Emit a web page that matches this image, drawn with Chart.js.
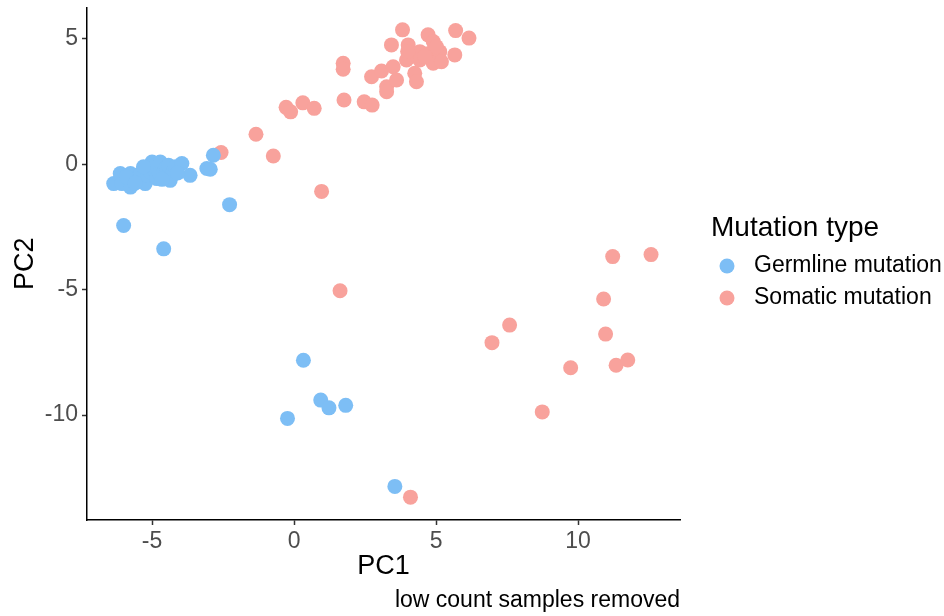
<!DOCTYPE html>
<html>
<head>
<meta charset="utf-8">
<script src="https://cdn.jsdelivr.net/npm/chart.js@4"></script>
<style>
  body { margin: 0; background: #fff; }
  #wrap { width: 944px; height: 616px; position: relative; }
</style>
</head>
<body>
<div id="wrap"><canvas id="graf_pca"></canvas></div>
<script>
// PCA scores per sample
const germlinePC1 = [-6.35, -6.12, -6.06, -5.76, -5.76, -5.55, -5.41, -5.24, -5.15, -5.06, -5.0, -4.95, -4.83, -4.75, -4.71, -4.59, -4.5, -4.42, -4.36, -4.25, -4.18, -3.95, -3.66, -3.07, -2.95, -2.84, -2.27, -6.0, -4.59, 0.33, 0.94, 1.23, 1.82, -0.23, 3.55, -5.9, -5.6, -5.3, -4.65, -4.1]
const germlinePC2 = [-0.77, -0.37, -0.77, -0.37, -0.91, -0.6, -0.37, -0.77, -0.45, -0.31, 0.09, -0.2, -0.57, -0.35, 0.09, -0.31, -0.1, -0.04, -0.64, -0.25, -0.1, 0.03, -0.44, -0.17, -0.2, 0.36, -1.61, -2.44, -3.37, -7.81, -9.4, -9.71, -9.61, -10.13, -12.84, -0.5, -0.75, -0.1, -0.6, -0.35]

const somaticPC1 = [-2.57, -1.34, -0.73, 0.97, 1.62, 4.1, -0.28, -0.12, 0.31, 0.71, 1.73, 1.73, 1.76, 2.47, 2.75, 2.73, 3.08, 3.26, 3.26, 3.49, 3.61, 3.43, 3.82, 4.02, 4.08, 4.25, 4.31, 4.43, 4.72, 4.9, 4.78, 5.13, 4.9, 5.19, 4.43, 5.66, 5.69, 6.16, 3.96, 5.01, 4.6, 4.0, 11.22, 12.57, 10.9, 10.97, 7.59, 6.97, 9.74, 11.34, 11.75, 8.74]
const somaticPC2 = [0.47, 1.2, 0.33, -1.08, -5.04, -13.27, 2.27, 2.09, 2.45, 2.23, 4.03, 3.79, 2.56, 2.49, 2.36, 3.49, 3.72, 3.09, 2.89, 3.89, 3.36, 4.76, 5.36, 4.76, 4.29, 3.63, 3.29, 4.49, 5.16, 4.89, 4.43, 4.49, 4.03, 4.09, 4.16, 4.36, 5.33, 5.03, 4.16, 4.69, 4.3, 4.5, -3.68, -3.6, -5.37, -6.77, -6.41, -7.11, -8.11, -8.01, -7.8, -9.87]

const pc1Ticks = [-5, 0, 5, 10]
const pc2Ticks = [-10, -5, 0, 5]

const corGermline = "rgb(125, 190, 245)"
const corSomatic = "rgb(248, 162, 156)"
const fonte = "'Liberation Sans', Arial, sans-serif"

function pontos(xs, ys) {
  return xs.map((x, i) => ({ x: x, y: ys[i] }))
}

// legend and caption drawn by hand, ggplot style
const extras = {
  id: 'extras',
  afterDraw(chart) {
    const c = chart.ctx
    c.save()
    c.fillStyle = '#000'
    c.textBaseline = 'middle'
    c.textAlign = 'left'
    c.font = '28px ' + fonte
    c.fillText('Mutation type', 711, 228)

    c.font = '23px ' + fonte
    chart.data.datasets.forEach((ds, i) => {
      let y = 266 + i * 32
      c.beginPath()
      c.arc(727, y, 7.5, 0, Math.PI * 2)
      c.fillStyle = ds.backgroundColor
      c.fill()
      c.fillStyle = '#000'
      c.fillText(ds.label, 754, y)
    })

    c.textAlign = 'right'
    c.fillText('low count samples removed', 680, 601)
    c.restore()
  }
}

new Chart(document.getElementById('graf_pca'), {
  type: 'scatter',
  data: {
    datasets: [
      {
        label: 'Germline mutation',
        data: pontos(germlinePC1, germlinePC2),
        backgroundColor: corGermline,
        borderWidth: 0,
        pointRadius: 7.5,
        pointHoverRadius: 7.5
      },
      {
        label: 'Somatic mutation',
        data: pontos(somaticPC1, somaticPC2),
        backgroundColor: corSomatic,
        borderWidth: 0,
        pointRadius: 7.5,
        pointHoverRadius: 7.5
      }
    ]
  },
  options: {
    responsive: true,
    maintainAspectRatio: false,
    animation: false,
    layout: { padding: { top: 7, right: 264, bottom: 0, left: 0 } },
    plugins: {
      legend: { display: false },
      tooltip: { enabled: false }
    },
    scales: {
      x: {
        type: 'linear',
        min: -7.29,
        max: 13.59,
        afterBuildTicks: (s) => { s.ticks = pc1Ticks.map(v => ({ value: v })) },
        afterFit: (s) => { s.height = 96; s.paddingLeft = 0; s.paddingRight = 0 },
        grid: { drawOnChartArea: false, tickLength: 5, tickColor: '#333', tickWidth: 1.5 },
        border: { display: true, color: '#000', width: 1.5 },
        ticks: { color: '#4d4d4d', padding: 3, maxRotation: 0, font: { family: fonte, size: 23 } },
        title: { display: true, text: 'PC1', color: '#000', padding: { top: 0, bottom: 33 }, font: { family: fonte, size: 27 } }
      },
      y: {
        type: 'linear',
        min: -14.18,
        max: 6.25,
        afterBuildTicks: (s) => { s.ticks = pc2Ticks.map(v => ({ value: v })) },
        afterFit: (s) => { s.width = 87; s.paddingTop = 0; s.paddingBottom = 0 },
        grid: { drawOnChartArea: false, tickLength: 5, tickColor: '#333', tickWidth: 1.5 },
        border: { display: true, color: '#000', width: 1.5 },
        ticks: { color: '#4d4d4d', padding: 4, font: { family: fonte, size: 23 } },
        title: { display: true, text: 'PC2', color: '#000', padding: { top: 9, bottom: 0 }, font: { family: fonte, size: 27 } }
      }
    }
  },
  plugins: [extras]
})
</script>
</body>
</html>
